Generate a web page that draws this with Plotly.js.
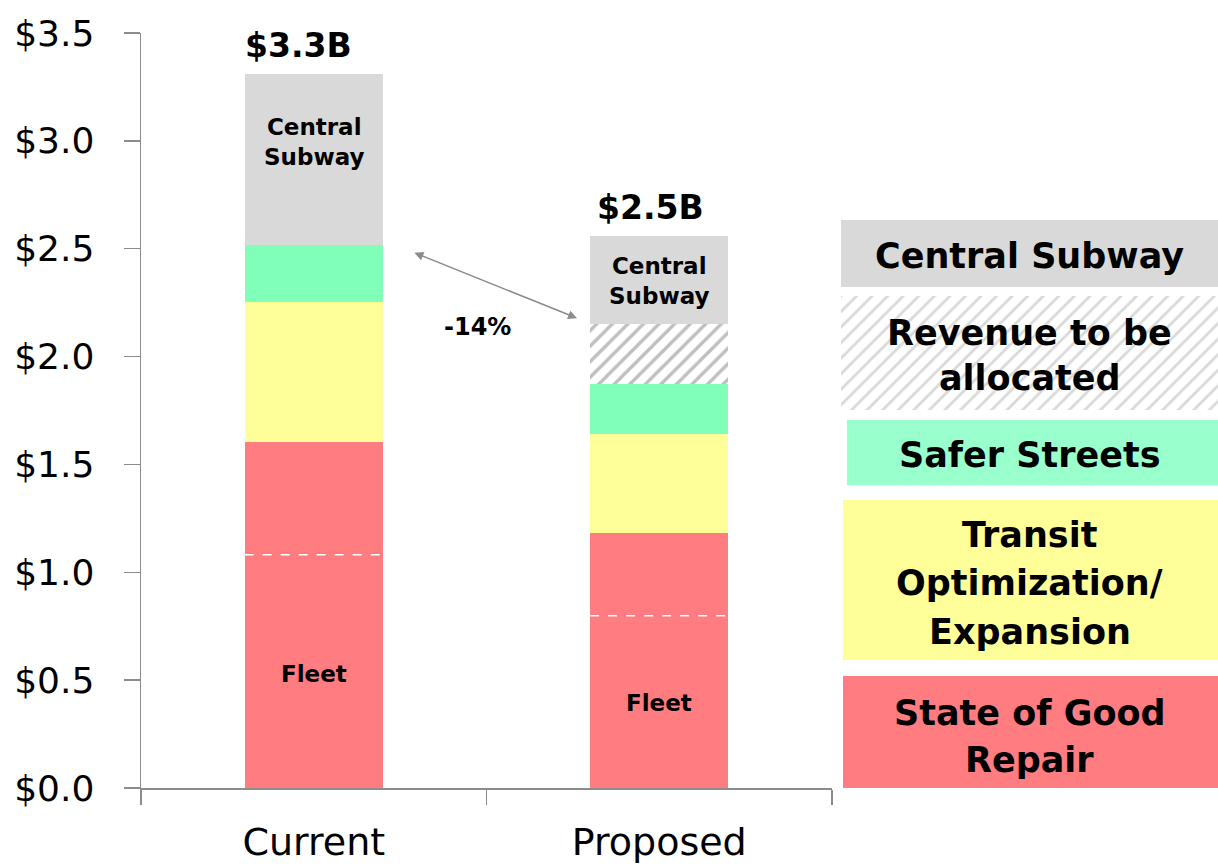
<!DOCTYPE html>
<html>
<head>
<meta charset="utf-8">
<script src="https://cdn.plot.ly/plotly-3.0.1.min.js"></script>
<style>html,body{margin:0;padding:0;background:#fff;}#chart{width:1218px;height:867px;}</style>
</head>
<body>
<div id="chart"></div>
<script>
// ---------- data ----------
const categories = ["Current", "Proposed"];
const stateOfGoodRepair = [1.605, 1.180];
const transitOptimization = [0.646, 0.460];
const saferStreets = [0.265, 0.232];
const revenueToBeAllocated = [0, 0.281];
const centralSubway = [0.795, 0.406];
const fleetPortion = [1.081, 0.798];
const totalLabels = ["$3.3B", "$2.5B"];
const changeLabel = "-14%";
const legendLabels = [
  ["Central Subway"],
  ["Revenue to be", "allocated"],
  ["Safer Streets"],
  ["Transit", "Optimization/", "Expansion"],
  ["State of Good", "Repair"]
];

// ---------- styles ----------
const FONT = "'DejaVu Sans', 'Noto Sans', sans-serif";
const colors = {
  sgr: "#FF7C80", transit: "#FFFF99", safer: "#80FFB8", central: "#D9D9D9",
  saferLegend: "#99FFCC", axis: "#8C8C8C"
};
const BAR_W = 0.4;

// pixel -> paper helpers for the legend panel (plot area: x 141..1218, y 33..788)
const L = 141, R = 1218, T = 33, B = 788;
const px = x => (x - L) / (R - L);
const py = y => (B - y) / (B - T);

const totals = categories.map((c, i) =>
  stateOfGoodRepair[i] + transitOptimization[i] + saferStreets[i] + revenueToBeAllocated[i] + centralSubway[i]);

function barTrace(name, y, color, extra) {
  return Object.assign({
    type: "bar", name: name, x: categories, y: y, width: BAR_W,
    marker: {color: color, line: {width: 0}}, hoverinfo: "none", showlegend: false
  }, extra || {});
}

const traces = [
  barTrace("State of Good Repair", stateOfGoodRepair, colors.sgr),
  barTrace("Transit Optimization/Expansion", transitOptimization, colors.transit),
  barTrace("Safer Streets", saferStreets, colors.safer),
  barTrace("Revenue to be allocated", revenueToBeAllocated, "#ffffff", {
    marker: {color: "#ffffff", line: {width: 0},
      pattern: {shape: "/", fgcolor: "#BFBFBF", bgcolor: "#ffffff", size: 11, solidity: 0.3}}
  }),
  barTrace("Central Subway", centralSubway, colors.central),
  // hatched legend swatch drawn on its own hidden axes
  {
    type: "bar", x: [0.5], y: [1], width: [1], xaxis: "x2", yaxis: "y2",
    marker: {color: "#ffffff", line: {width: 0},
      pattern: {shape: "/", fgcolor: "#D9D9D9", bgcolor: "#ffffff", size: 11, solidity: 0.25}},
    hoverinfo: "none", showlegend: false
  }
];

const shapes = [];
// dashed fleet divider lines
categories.forEach((c, i) => {
  shapes.push({type: "line", xref: "x", yref: "y", x0: i - BAR_W / 2, x1: i + BAR_W / 2,
    y0: fleetPortion[i], y1: fleetPortion[i], line: {color: "#ffffff", width: 1.5, dash: "dash"}});
});
// legend boxes
const legendBoxes = [
  {x0: 841, x1: 1218, y0: 220, y1: 287, fill: colors.central},
  {x0: 841, x1: 1218, y0: 296, y1: 410, fill: null},
  {x0: 847, x1: 1218, y0: 420, y1: 485, fill: colors.saferLegend},
  {x0: 843, x1: 1218, y0: 500, y1: 660, fill: colors.transit},
  {x0: 843, x1: 1218, y0: 676, y1: 788, fill: colors.sgr}
];
legendBoxes.forEach(b => {
  if (b.fill) shapes.push({type: "rect", xref: "paper", yref: "paper", x0: px(b.x0), x1: px(b.x1),
    y0: py(b.y1), y1: py(b.y0), fillcolor: b.fill, line: {width: 0}, layer: "below"});
});

const annotations = [];
// total labels
const totalShift = [-15, -9];
categories.forEach((c, i) => {
  annotations.push({x: c, y: totals[i], xref: "x", yref: "y", text: "<b>" + totalLabels[i] + "</b>",
    showarrow: false, yanchor: "middle", yshift: 28, xshift: totalShift[i],
    font: {family: FONT, size: 33, color: "#000"}});
});
// in-bar labels
const centralLabelY = [2.994, 2.349];
const fleetLabelY = [0.528, 0.394];
categories.forEach((c, i) => {
  annotations.push({x: c, y: centralLabelY[i], xref: "x", yref: "y", text: "<b>Central<br>Subway</b>",
    showarrow: false, font: {family: FONT, size: 23, color: "#000"}});
  annotations.push({x: c, y: fleetLabelY[i], xref: "x", yref: "y", text: "<b>Fleet</b>",
    showarrow: false, font: {family: FONT, size: 23, color: "#000"}});
});
// change arrow and label
annotations.push({x: 0.762, y: 2.178, ax: 0.287, ay: 2.484, xref: "x", yref: "y", axref: "x", ayref: "y",
  text: "", showarrow: true, arrowhead: 2, startarrowhead: 2, arrowside: "end+start",
  arrowcolor: "#8C8C8C", arrowwidth: 1.5, arrowsize: 1.2, startarrowsize: 1.2});
annotations.push({x: 0.475, y: 2.136, xref: "x", yref: "y", text: "<b>" + changeLabel + "</b>",
  showarrow: false, font: {family: FONT, size: 24, color: "#000"}});
// legend texts, one annotation per line
const legendLineY = [[256], [333, 378], [455], [535, 583, 632], [713, 760]];
legendLabels.forEach((lines, i) => {
  lines.forEach((t, j) => {
    annotations.push({xref: "paper", yref: "paper", x: px((841 + 1218) / 2), y: py(legendLineY[i][j]),
      text: "<b>" + t + "</b>", showarrow: false, xanchor: "center", yanchor: "middle",
      font: {family: FONT, size: 35, color: "#000"}});
  });
});

const layout = {
  width: 1218, height: 867,
  margin: {l: L, r: 0, t: T, b: 867 - B},
  paper_bgcolor: "#ffffff", plot_bgcolor: "#ffffff",
  barmode: "stack", showlegend: false,
  xaxis: {
    domain: [0, (832 - L) / (R - L)], type: "category", range: [-0.5, 1.5],
    showline: true, linecolor: colors.axis, linewidth: 1.5,
    ticks: "outside", tickson: "boundaries", ticklen: 15, tickcolor: colors.axis, tickwidth: 1.5,
    tickfont: {family: FONT, size: 38, color: "#000"}, ticklabelstandoff: 20,
    showgrid: false, zeroline: false, fixedrange: true
  },
  yaxis: {
    range: [0, 3.5], dtick: 0.5, tick0: 0, tickformat: "$.1f",
    showline: true, linecolor: colors.axis, linewidth: 1.5,
    ticks: "outside", ticklen: 16, tickcolor: colors.axis, tickwidth: 1.5,
    tickfont: {family: FONT, size: 36, color: "#000"}, ticklabelstandoff: 22,
    showgrid: false, zeroline: false, fixedrange: true
  },
  xaxis2: {domain: [px(841), 1], range: [0, 1], anchor: "y2", visible: false, fixedrange: true},
  yaxis2: {domain: [py(410), py(296)], range: [0, 1], anchor: "x2", visible: false, fixedrange: true},
  shapes: shapes,
  annotations: annotations
};

Plotly.newPlot("chart", traces, layout, {displayModeBar: false, staticPlot: true});
</script>
</body>
</html>
